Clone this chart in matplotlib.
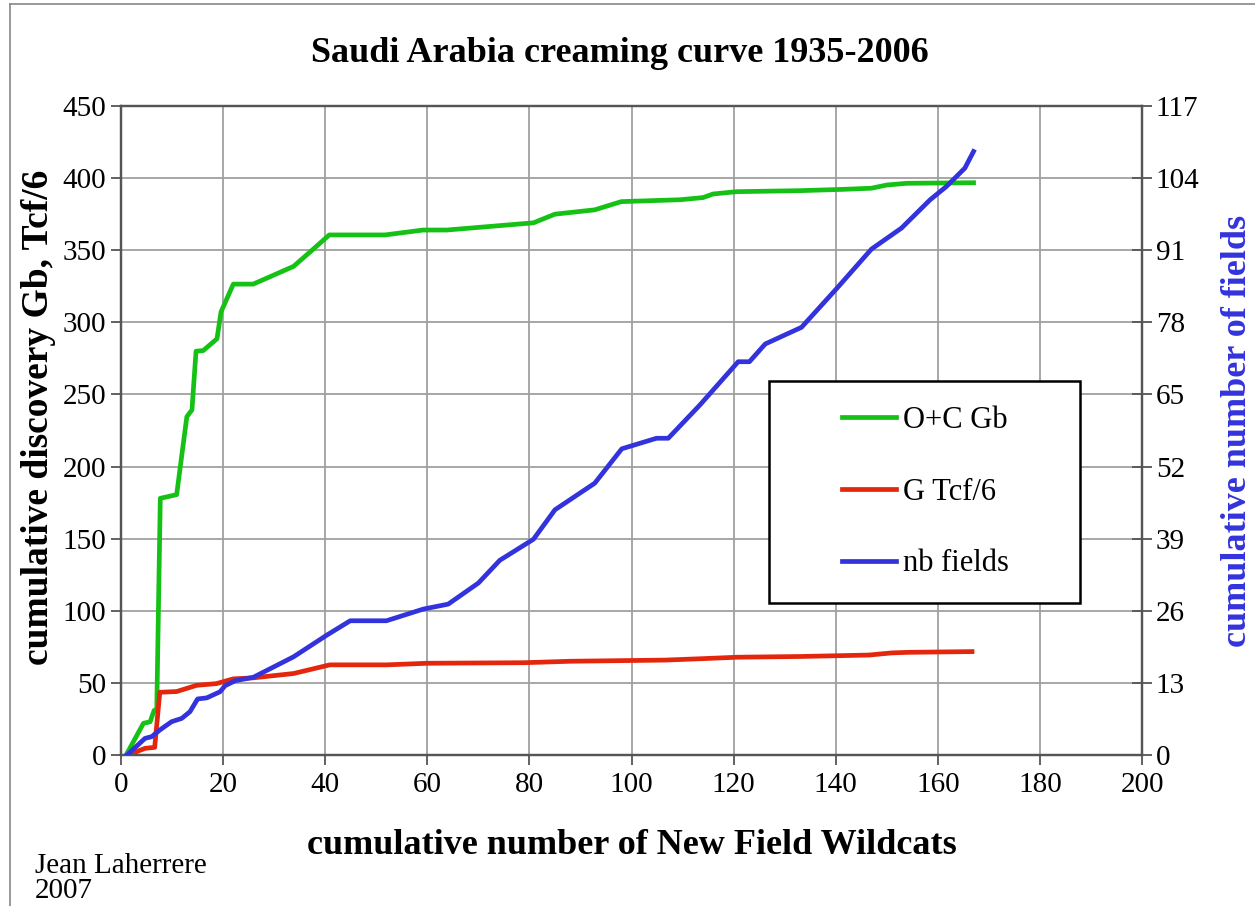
import matplotlib
matplotlib.use("Agg")
import matplotlib.pyplot as plt
from matplotlib.lines import Line2D
from matplotlib.patches import Rectangle
import numpy as np

plt.rcParams["font.family"] = "Liberation Serif"

####### data #######
# O+C Gb (left axis)
oc_x = [1, 4.4, 5.7, 6.5, 7.0, 7.7, 10.9, 12.9, 13.9, 14.7, 16.1, 18.8, 19.6, 22.0, 25.9,
        33.8, 37.1, 40.8, 51.7, 59.2, 63.8, 80.8, 85, 92.8, 98, 109.5, 114, 116, 120.6,
        133, 141.4, 147, 150, 153.9, 167]
oc_y = [0, 22, 23, 31, 31, 178, 180.5, 234.6, 239.3, 280, 280.4, 288.6, 307.3, 326.5, 326.5,
        338.8, 349, 360.6, 360.6, 364, 364, 369, 375, 378, 383.7, 385, 386.5, 389, 390.6,
        391.3, 392.2, 393, 395.2, 396.4, 396.8]

# G Tcf/6 (left axis)
gas_x = [1.4, 4.7, 6.6, 7.6, 10.9, 14.8, 18.7, 22, 25.9, 33.8, 40.9, 52, 59.9, 79, 88,
         106.5, 113.9, 120.7, 133, 146.5, 151, 154.4, 166.7]
gas_y = [0, 4.6, 5.3, 43.5, 44, 48.3, 49.5, 52.8, 53.5, 56.5, 62.5, 62.5, 63.6, 64, 65,
         65.8, 66.8, 67.8, 68.3, 69.3, 70.8, 71.2, 71.7]

# nb fields (right axis)
nb_x = [1.2, 4.7, 6.0, 7.6, 9.9, 11.9, 13.5, 15.0, 16.8, 19.4, 20.4, 22.4, 25.9, 33.8, 40.3,
        44.9, 52, 59.2, 64.1, 70, 74.2, 80.8, 85, 92.8, 98.1, 104.9, 107.2, 113.4, 120.9,
        123.1, 126.2, 133.3, 140.2, 147, 152.9, 158.5, 161.7, 165.3, 167]
nb_y = [0, 3.0, 3.3, 4.5, 6.0, 6.6, 7.8, 10.1, 10.3, 11.4, 12.5, 13.4, 14.0, 17.7, 21.6,
        24.2, 24.2, 26.3, 27.2, 31, 35.1, 38.9, 44.2, 49, 55.2, 57.1, 57.1, 63.1, 70.9,
        70.9, 74.1, 77.1, 84.1, 91.2, 95, 100.1, 102.5, 105.8, 108.8]

labels = ["O+C Gb", "G Tcf/6", "nb fields"]
GREEN = "#16c116"
RED = "#e4260c"
BLUE = "#3333dd"

fig, ax = plt.subplots(1, 1, figsize=(12.55, 9.06), dpi=100)
fig.subplots_adjust(left=121/1255, right=1142/1255, top=1-106/906, bottom=1-755/906)

ax.plot(oc_x, oc_y, color=GREEN, lw=3.4, zorder=3)
ax.plot(gas_x, gas_y, color=RED, lw=3.4, zorder=3)
ax.set_xlim(0, 200)
ax.set_ylim(0, 450)
ax.set_xticks(np.arange(0, 201, 20))
ax.set_yticks(np.arange(0, 451, 50))
ax.grid(True, color="#a0a0a0", lw=1.3)
ax.tick_params(axis="both", which="major", labelsize=21, direction="out", length=7,
               width=1.3, color="#555555")
ax.tick_params(axis="x", pad=5)
for s in ax.spines.values():
    s.set_color("#555555")
    s.set_linewidth(1.6)

ax2 = ax.twinx()
ax2.plot(nb_x, nb_y, color=BLUE, lw=3.4, zorder=4)
ax2.set_ylim(0, 117)
ax2.set_yticks(np.arange(0, 118, 13))
ax2.tick_params(axis="y", labelsize=21, direction="inout", length=14, width=1.3,
                color="#555555", pad=3)
for s in ax2.spines.values():
    s.set_color("#555555")
    s.set_linewidth(1.6)

ax.set_xlabel("cumulative number of New Field Wildcats", fontsize=26, fontweight="bold")
ax.xaxis.set_label_coords(0.5, -0.139)
ax.xaxis.label.set_va("center")
ax.set_ylabel("cumulative discovery Gb, Tcf/6", fontsize=27, fontweight="bold")
ax.yaxis.set_label_coords(-0.081, 0.52)
ax.yaxis.label.set_va("center")
ax2.set_ylabel("cumulative number of fields", fontsize=26, fontweight="bold", color=BLUE)
ax2.yaxis.set_label_coords(1.094, 0.5)
ax2.yaxis.label.set_va("center")

fig.text(620/1255, 1-53/906, "Saudi Arabia creaming curve 1935-2006", fontsize=26,
         fontweight="bold", ha="center", va="center")
fig.text(35/1255, 2/906, "Jean Laherrere\n2007", fontsize=21, ha="left", va="bottom",
         linespacing=0.95)

# legend box
box = Rectangle((0.6347, 0.2342), 0.3046, 0.3421, transform=ax2.transAxes,
                facecolor="white", edgecolor="black", lw=1.8, zorder=5)
ax2.add_patch(box)
handles = [Line2D([], [], color=c, lw=3.4) for c in (GREEN, RED, BLUE)]
leg = ax2.legend(handles, labels, loc="center", bbox_to_anchor=(0.788, 0.405),
                 frameon=False, fontsize=22, handlelength=1.75, handletextpad=0.25,
                 labelspacing=1.4)
leg.set_zorder(6)

# outer frame
fig.add_artist(Line2D([10/1255, 1], [1-4/906, 1-4/906], color="#888888", lw=1.2))
fig.add_artist(Line2D([10/1255, 10/1255], [0, 1-4/906], color="#888888", lw=1.2))

fig.savefig("out.png", dpi=100)
